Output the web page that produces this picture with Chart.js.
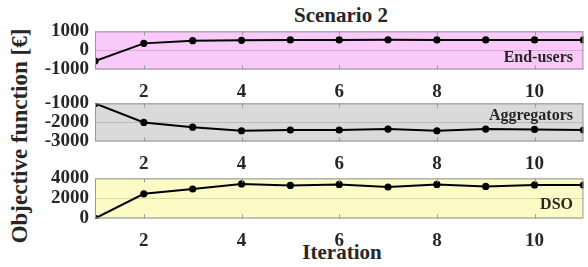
<!DOCTYPE html>
<html>
<head>
<meta charset="utf-8">
<script src="https://cdn.jsdelivr.net/npm/chart.js@4"></script>
<style>
  body { margin: 0; background: #fff; }
  #wrap { position: relative; width: 588px; height: 267px; overflow: hidden; font-family: "Liberation Serif", serif; font-weight: bold; color: #262626; }
  .panel { position: absolute; left: 0; width: 588px; }
  .txt { position: absolute; white-space: nowrap; line-height: 1; }
</style>
</head>
<body>
<div id="wrap">
  <div class="txt" id="title" style="font-size:21px; left:341px; top:5px; transform:translateX(-50%);">Scenario 2</div>
  <div class="txt" style="font-size:23px; left:19px; top:136px; transform:translate(-50%,-50%) rotate(-90deg);">Objective function [€]</div>
  <div class="txt" style="font-size:21px; left:342px; top:242px; transform:translateX(-50%);">Iteration</div>

  <div class="panel" id="p1" style="top:19px; height:81px;"><canvas id="c1"></canvas></div>
  <div class="panel" id="p2" style="top:91px; height:81px;"><canvas id="c2"></canvas></div>
  <div class="panel" id="p3" style="top:166px; height:83px;"><canvas id="c3"></canvas></div>

  <div class="txt" style="font-size:16px; right:15px; top:49px;">End-users</div>
  <div class="txt" style="font-size:16px; right:15px; top:107px;">Aggregators</div>
  <div class="txt" style="font-size:16px; right:15px; top:196px;">DSO</div>
</div>
<script>
// values
const iterations = [1, 2, 3, 4, 5, 6, 7, 8, 9, 10, 11];
const endUsers = [-560, 370, 510, 530, 550, 550, 560, 550, 550, 550, 550];
const aggregators = [-1000, -2000, -2250, -2440, -2400, -2400, -2350, -2440, -2350, -2370, -2400];
const dso = [0, 2460, 2940, 3450, 3300, 3400, 3140, 3400, 3200, 3350, 3330];

const xTicks = [2, 4, 6, 8, 10];
const yTicksEnd = [-1000, 0, 1000];
const yTicksAgg = [-3000, -2000, -1000];
const yTicksDso = [0, 2000, 4000];

const textColor = "#262626";
const boxColor = "#9a9a9a";
const xAxisH = 31;

// background, box and inward tick marks like the original figure
const panelDeco = {
  id: "panelDeco",
  beforeDraw(chart, args, opts) {
    const a = chart.chartArea;
    const ctx = chart.ctx;
    ctx.save();
    ctx.fillStyle = opts.color;
    ctx.fillRect(a.left, a.top, a.right - a.left, a.bottom - a.top);
    ctx.restore();
  },
  afterDraw(chart) {
    const a = chart.chartArea;
    const ctx = chart.ctx;
    const xs = chart.scales.x;
    ctx.save();
    ctx.strokeStyle = boxColor;
    ctx.lineWidth = 1;
    ctx.strokeRect(a.left + 0.5, a.top + 0.5, a.right - a.left - 1, a.bottom - a.top - 1);
    xTicks.forEach((t) => {
      const px = Math.round(xs.getPixelForValue(t)) + 0.5;
      ctx.beginPath();
      ctx.moveTo(px, a.top);
      ctx.lineTo(px, a.top + 4);
      ctx.moveTo(px, a.bottom);
      ctx.lineTo(px, a.bottom - 4);
      ctx.stroke();
    });
    ctx.restore();
  },
};

const tickFont = { family: "Liberation Serif", size: 19, weight: "bold" };

// areaTop / areaH: where the plot box should sit in the page
function makePanel(id, boxId, values, yTicks, bg, areaTop, areaH) {
  const points = iterations.map((x, i) => ({ x: x, y: values[i] }));
  const chart = new Chart(document.getElementById(id), {
    type: "line",
    data: {
      datasets: [
        {
          data: points,
          borderColor: "#000",
          backgroundColor: "#000",
          borderWidth: 2,
          pointRadius: 2.6,
          pointHoverRadius: 2.6,
          tension: 0,
        },
      ],
    },
    plugins: [panelDeco],
    options: {
      responsive: true,
      maintainAspectRatio: false,
      animation: false,
      events: [],
      layout: { padding: { top: 12, right: 1, left: 0, bottom: 0 } },
      plugins: {
        legend: { display: false },
        tooltip: { enabled: false },
        panelDeco: { color: bg },
      },
      scales: {
        x: {
          type: "linear",
          min: 1,
          max: 11,
          afterBuildTicks: (s) => {
            s.ticks = xTicks.map((v) => ({ value: v }));
          },
          afterFit: (s) => {
            s.height = xAxisH;
          },
          grid: { display: false, drawTicks: false },
          border: { display: false },
          ticks: {
            color: textColor,
            padding: 11,
            maxRotation: 0,
            autoSkip: false,
            callback: (v) => String(v),
            font: tickFont,
          },
        },
        y: {
          min: yTicks[0],
          max: yTicks[yTicks.length - 1],
          afterBuildTicks: (s) => {
            s.ticks = yTicks.map((v) => ({ value: v }));
          },
          afterFit: (s) => {
            s.width = 95;
          },
          grid: { color: "rgba(0,0,0,0.13)", drawTicks: false },
          border: { display: false },
          ticks: {
            color: textColor,
            padding: 6,
            autoSkip: false,
            callback: (v) => String(v),
            font: tickFont,
          },
        },
      },
    },
  });
  // place the box so its plot area lands where the original has it
  const off = chart.chartArea.top;
  const box = document.getElementById(boxId);
  box.style.top = areaTop - off + "px";
  box.style.height = off + areaH + xAxisH + "px";
  chart.resize();
  return chart;
}

makePanel("c1", "p1", endUsers, yTicksEnd, "#f9c9f9", 31, 38);
makePanel("c2", "p2", aggregators, yTicksAgg, "#dadada", 103, 38);
makePanel("c3", "p3", dso, yTicksDso, "#fcfbc5", 178, 40);
</script>
</body>
</html>
